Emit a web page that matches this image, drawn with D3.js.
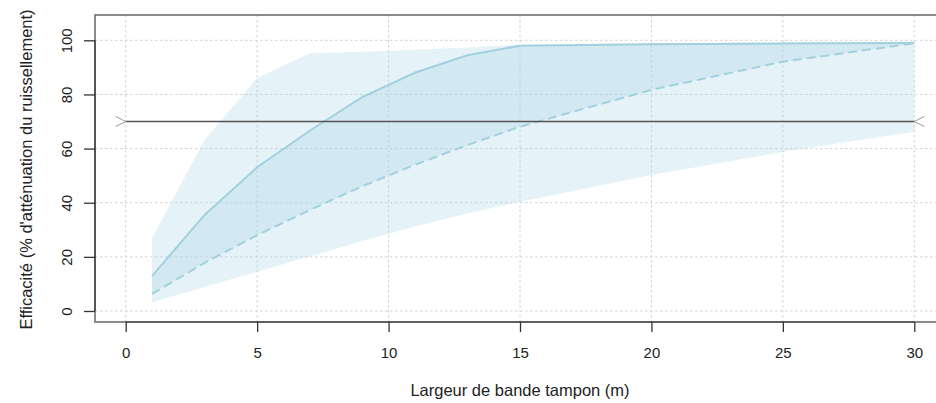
<!DOCTYPE html>
<html>
<head>
<meta charset="utf-8">
<script src="https://cdn.jsdelivr.net/npm/d3@7"></script>
<style>
  body { margin: 0; background: white; }
  text { font-family: "Liberation Sans", Arial, sans-serif; fill: #222; }
</style>
</head>
<body>
<script>
const width = 936;
const height = 403;

// buffer width (m)
const widths = [1, 3, 5, 7, 9, 11, 13, 15, 20, 25, 30];
// outer envelope
const outerHigh = [26.9, 63.2, 86.1, 95.2, 95.8, 96.5, 97.3, 98.4, 99.0, 99.3, 99.6];
const outerLow = [3.2, 8.9, 14.5, 20.1, 25.9, 31.2, 36.0, 40.4, 50.2, 58.8, 66.2];
// solid curve and dashed curve
const solidCurve = [12.9, 35.5, 53.1, 66.6, 79.0, 88.0, 94.5, 98.0, 98.5, 98.8, 99.0];
const dashedCurve = [6.3, 17.8, 28.0, 37.3, 46.1, 54.0, 61.3, 68.1, 81.7, 92.1, 98.9];
const threshold = 70;

const xTicks = [0, 5, 10, 15, 20, 25, 30];
const yTicks = [0, 20, 40, 60, 80, 100];

const x = d3.scaleLinear().domain([0, 30]).range([125.7, 914.3]);
const y = d3.scaleLinear().domain([0, 100]).range([311, 40.3]);

const box = { left: 95, top: 15, right: 945, bottom: 322 };

const svg = d3.select("body")
  .append("svg")
  .attr("width", width)
  .attr("height", height);

// grid
svg.append("g")
  .selectAll("line")
  .data(yTicks)
  .join("line")
  .attr("x1", box.left)
  .attr("x2", box.right)
  .attr("y1", d => y(d))
  .attr("y2", d => y(d))
  .attr("stroke", "#d2d2d2")
  .attr("stroke-width", 1)
  .attr("stroke-dasharray", "2.5,2.5");

svg.append("g")
  .selectAll("line")
  .data(xTicks)
  .join("line")
  .attr("x1", d => x(d))
  .attr("x2", d => x(d))
  .attr("y1", box.top)
  .attr("y2", box.bottom)
  .attr("stroke", "#d2d2d2")
  .attr("stroke-width", 1)
  .attr("stroke-dasharray", "2.5,2.5");

const rows = widths.map((w, i) => ({
  w: w,
  hi: outerHigh[i],
  lo: outerLow[i],
  solid: solidCurve[i],
  dash: dashedCurve[i]
}));

// bands
svg.append("path")
  .datum(rows)
  .attr("fill", "#add8e6")
  .attr("fill-opacity", 0.32)
  .attr("d", d3.area().x(d => x(d.w)).y0(d => y(d.lo)).y1(d => y(d.hi)));

svg.append("path")
  .datum(rows)
  .attr("fill", "#add8e6")
  .attr("fill-opacity", 0.32)
  .attr("d", d3.area().x(d => x(d.w)).y0(d => y(d.dash)).y1(d => y(d.solid)));

// curves
svg.append("path")
  .datum(rows)
  .attr("fill", "none")
  .attr("stroke", "#a2d0de")
  .attr("stroke-width", 2)
  .attr("d", d3.line().x(d => x(d.w)).y(d => y(d.solid)));

svg.append("path")
  .datum(rows)
  .attr("fill", "none")
  .attr("stroke", "#a2d0de")
  .attr("stroke-width", 2)
  .attr("stroke-dasharray", "9,5")
  .attr("d", d3.line().x(d => x(d.w)).y(d => y(d.dash)));

// threshold line with open chevrons at both ends
svg.append("line")
  .attr("x1", x(0))
  .attr("x2", x(30))
  .attr("y1", y(threshold))
  .attr("y2", y(threshold))
  .attr("stroke", "#555")
  .attr("stroke-width", 1.3);

svg.append("path")
  .attr("fill", "none")
  .attr("stroke", "#999")
  .attr("stroke-width", 1)
  .attr("d", `M${x(0) - 10},${y(threshold) - 5}L${x(0)},${y(threshold)}L${x(0) - 10},${y(threshold) + 5}
             M${x(30) + 10},${y(threshold) - 5}L${x(30)},${y(threshold)}L${x(30) + 10},${y(threshold) + 5}`);

// box
svg.append("rect")
  .attr("x", box.left)
  .attr("y", box.top)
  .attr("width", box.right - box.left)
  .attr("height", box.bottom - box.top)
  .attr("fill", "none")
  .attr("stroke", "#707070")
  .attr("stroke-width", 1.6);

// x axis
const xAxis = svg.append("g")
  .attr("transform", `translate(0,${box.bottom})`)
  .call(d3.axisBottom(x).tickValues(xTicks).tickSize(10).tickPadding(0));
xAxis.select(".domain").attr("stroke", "#333").attr("stroke-width", 1.2)
  .attr("d", `M${x(0)},0H${x(30)}`);
xAxis.selectAll(".tick line").attr("stroke", "#333").attr("stroke-width", 1.3);
xAxis.selectAll(".tick text")
  .attr("font-size", 15)
  .style("font-family", "Liberation Sans, Arial, sans-serif")
  .attr("fill", "#222")
  .attr("dy", null)
  .attr("y", 36);

// y axis
const yAxis = svg.append("g")
  .attr("transform", `translate(${box.left},0)`)
  .call(d3.axisLeft(y).tickValues(yTicks).tickSize(11).tickFormat(d3.format("d")));
yAxis.select(".domain").attr("stroke", "#333").attr("stroke-width", 1.2)
  .attr("d", `M0,${y(0)}V${y(100)}`);
yAxis.selectAll(".tick line").attr("stroke", "#333").attr("stroke-width", 1.3);
yAxis.selectAll(".tick text")
  .attr("font-size", 15)
  .style("font-family", "Liberation Sans, Arial, sans-serif")
  .attr("fill", "#222")
  .attr("x", null)
  .attr("dy", null)
  .attr("text-anchor", "middle")
  .attr("transform", "translate(-23.5,0) rotate(-90)");

// axis titles
svg.append("text")
  .attr("x", (box.left + box.right) / 2)
  .attr("y", 396)
  .attr("text-anchor", "middle")
  .attr("font-size", 16.5)
  .text("Largeur de bande tampon (m)");

svg.append("text")
  .attr("transform", `translate(32,${(box.top + box.bottom) / 2 + 1}) rotate(-90)`)
  .attr("text-anchor", "middle")
  .attr("font-size", 16.5)
  .text("Efficacité (% d'atténuation du ruissellement)");
</script>
</body>
</html>
